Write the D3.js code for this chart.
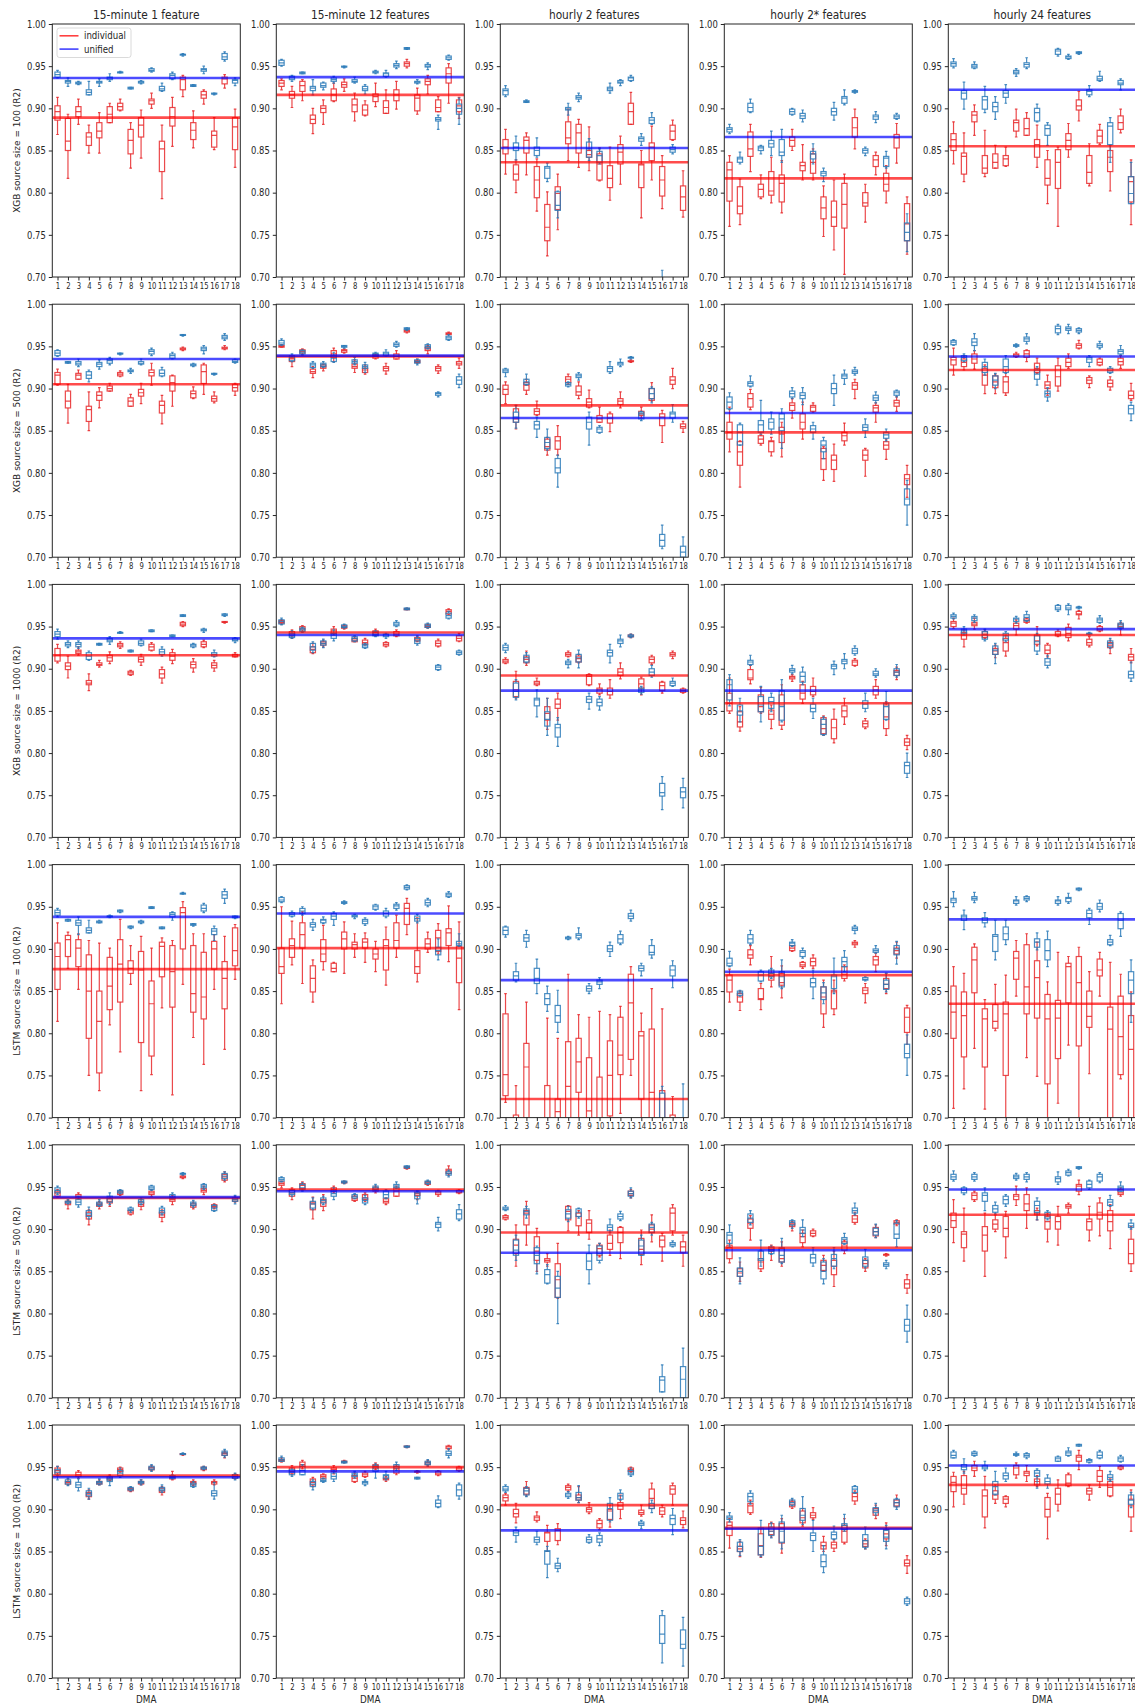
<!DOCTYPE html>
<html>
<head>
<meta charset="utf-8">
<script src="https://cdn.jsdelivr.net/npm/d3@7/dist/d3.min.js"></script>
<style>
  html, body { margin: 0; padding: 0; background: #fff; }
  svg { display: block; font-family: "DejaVu Sans", sans-serif; }
</style>
</head>
<body>
<script>
// ---- categories and labels ----
const dma = d3.range(1, 19);
const columnTitles = ["15-minute 1 feature", "15-minute 12 features", "hourly 2 features", "hourly 2* features", "hourly 24 features"];
const rowLabels = ["XGB source size = 100 (R2)", "XGB source size = 500 (R2)", "XGB source size = 1000 (R2)",
                   "LSTM source size = 100 (R2)", "LSTM source size = 500 (R2)", "LSTM source size = 1000 (R2)"];
const yTicks = [0.70, 0.75, 0.80, 0.85, 0.90, 0.95, 1.00];
const seriesNames = ["individual", "unified"];

// mean R2 across DMAs, one value per panel (rows x columns)
const meanIndividual = [
  [0.889, 0.916, 0.836, 0.817, 0.855],
  [0.905, 0.938, 0.880, 0.848, 0.922],
  [0.916, 0.943, 0.892, 0.859, 0.940],
  [0.876, 0.901, 0.722, 0.869, 0.835],
  [0.937, 0.947, 0.896, 0.878, 0.917],
  [0.940, 0.950, 0.905, 0.878, 0.929]];
const meanUnified = [
  [0.936, 0.937, 0.853, 0.866, 0.922],
  [0.935, 0.939, 0.865, 0.871, 0.938],
  [0.936, 0.940, 0.874, 0.874, 0.947],
  [0.938, 0.942, 0.863, 0.873, 0.935],
  [0.938, 0.945, 0.872, 0.875, 0.947],
  [0.938, 0.945, 0.875, 0.877, 0.952]];

// box statistics per DMA: [whisker low, q1, median, q3, whisker high]
// ---- XGB, source size 100 ----
const xgb100_m15f1_ind = [[0.869,0.886,0.896,0.903,0.913],[0.817,0.850,0.861,0.888,0.893],[0.881,0.890,0.896,0.902,0.911],[0.847,0.856,0.866,0.871,0.880],[0.847,0.865,0.873,0.883,0.895],[0.883,0.883,0.893,0.902,0.906],[0.897,0.898,0.902,0.906,0.911],[0.829,0.846,0.862,0.875,0.883],[0.841,0.866,0.880,0.889,0.898],[0.900,0.905,0.909,0.911,0.918],[0.793,0.825,0.852,0.861,0.880],[0.855,0.879,0.890,0.901,0.913],[0.914,0.922,0.934,0.937,0.939],[0.853,0.863,0.874,0.883,0.897],[0.905,0.912,0.916,0.920,0.922],[0.851,0.854,0.868,0.873,0.889],[0.924,0.929,0.935,0.937,0.940],[0.830,0.851,0.878,0.889,0.899]];
const xgb100_m15f1_uni = [[0.936,0.937,0.940,0.943,0.945],[0.926,0.930,0.932,0.933,0.936],[0.928,0.929,0.930,0.931,0.932],[0.916,0.916,0.919,0.922,0.932],[0.926,0.930,0.931,0.932,0.935],[0.932,0.934,0.936,0.937,0.941],[0.942,0.942,0.943,0.943,0.944],[0.923,0.923,0.924,0.925,0.925],[0.929,0.930,0.931,0.932,0.933],[0.943,0.944,0.945,0.947,0.948],[0.920,0.921,0.923,0.926,0.930],[0.934,0.935,0.939,0.941,0.943],[0.962,0.963,0.964,0.964,0.965],[0.926,0.926,0.927,0.928,0.928],[0.941,0.944,0.946,0.947,0.950],[0.916,0.917,0.917,0.918,0.918],[0.956,0.958,0.961,0.965,0.967],[0.927,0.930,0.933,0.934,0.936]];
const xgb100_m15f12_ind = [[0.922,0.926,0.930,0.933,0.935],[0.901,0.912,0.916,0.920,0.926],[0.909,0.920,0.927,0.932,0.934],[0.870,0.882,0.887,0.892,0.900],[0.881,0.895,0.900,0.903,0.910],[0.908,0.909,0.916,0.923,0.930],[0.920,0.925,0.928,0.931,0.935],[0.885,0.896,0.904,0.911,0.918],[0.891,0.892,0.898,0.904,0.909],[0.902,0.908,0.914,0.917,0.930],[0.894,0.894,0.901,0.909,0.922],[0.899,0.909,0.916,0.922,0.932],[0.948,0.950,0.953,0.955,0.958],[0.893,0.897,0.912,0.916,0.924],[0.917,0.928,0.932,0.935,0.939],[0.896,0.896,0.901,0.910,0.914],[0.906,0.930,0.941,0.948,0.953],[0.888,0.896,0.903,0.910,0.913]];
const xgb100_m15f12_uni = [[0.950,0.951,0.954,0.957,0.958],[0.932,0.934,0.936,0.938,0.939],[0.941,0.941,0.942,0.943,0.943],[0.916,0.921,0.924,0.926,0.934],[0.922,0.925,0.927,0.930,0.931],[0.930,0.932,0.934,0.936,0.938],[0.948,0.949,0.949,0.950,0.950],[0.930,0.931,0.932,0.934,0.937],[0.917,0.921,0.923,0.926,0.928],[0.941,0.942,0.943,0.944,0.945],[0.937,0.938,0.941,0.942,0.945],[0.947,0.949,0.951,0.953,0.956],[0.970,0.970,0.971,0.972,0.972],[0.929,0.930,0.931,0.932,0.934],[0.946,0.949,0.950,0.952,0.954],[0.875,0.885,0.887,0.889,0.892],[0.957,0.958,0.960,0.962,0.963],[0.881,0.893,0.900,0.905,0.912]];
const xgb100_h2_ind = [[0.822,0.846,0.854,0.863,0.875],[0.800,0.815,0.822,0.833,0.839],[0.821,0.847,0.862,0.866,0.871],[0.778,0.794,0.815,0.831,0.840],[0.725,0.743,0.759,0.786,0.801],[0.756,0.780,0.799,0.807,0.822],[0.838,0.858,0.865,0.884,0.899],[0.830,0.847,0.871,0.881,0.887],[0.826,0.842,0.845,0.850,0.878],[0.814,0.815,0.834,0.846,0.853],[0.791,0.806,0.817,0.832,0.854],[0.810,0.834,0.848,0.857,0.867],[0.881,0.881,0.896,0.906,0.919],[0.770,0.806,0.833,0.834,0.850],[0.815,0.838,0.854,0.859,0.879],[0.781,0.796,0.815,0.831,0.844],[0.862,0.863,0.873,0.880,0.886],[0.771,0.779,0.795,0.808,0.826]];
const xgb100_h2_uni = [[0.914,0.916,0.921,0.923,0.927],[0.839,0.850,0.854,0.859,0.867],[0.907,0.907,0.908,0.909,0.910],[0.842,0.844,0.850,0.854,0.865],[0.813,0.817,0.829,0.831,0.835],[0.770,0.779,0.785,0.801,0.802],[0.892,0.898,0.899,0.901,0.906],[0.908,0.911,0.913,0.915,0.918],[0.838,0.842,0.852,0.860,0.864],[0.834,0.836,0.844,0.849,0.852],[0.918,0.921,0.923,0.925,0.930],[0.927,0.930,0.931,0.933,0.934],[0.932,0.933,0.936,0.937,0.939],[0.856,0.861,0.864,0.866,0.870],[0.881,0.882,0.886,0.889,0.895],[0.660,0.670,0.680,0.690,0.708],[0.846,0.848,0.851,0.854,0.857],[0.640,0.650,0.660,0.670,0.680]];
const xgb100_h2s_ind = [[0.760,0.790,0.827,0.836,0.844],[0.762,0.775,0.784,0.807,0.816],[0.825,0.843,0.852,0.872,0.881],[0.793,0.795,0.804,0.810,0.821],[0.788,0.797,0.802,0.825,0.842],[0.776,0.789,0.811,0.821,0.838],[0.850,0.855,0.862,0.866,0.875],[0.815,0.826,0.832,0.836,0.857],[0.815,0.823,0.836,0.846,0.852],[0.748,0.769,0.782,0.795,0.808],[0.732,0.760,0.771,0.790,0.815],[0.703,0.758,0.786,0.811,0.822],[0.852,0.866,0.877,0.889,0.899],[0.765,0.784,0.788,0.800,0.810],[0.821,0.831,0.839,0.844,0.848],[0.788,0.802,0.810,0.823,0.832],[0.835,0.853,0.865,0.869,0.882],[0.727,0.743,0.763,0.787,0.795]];
const xgb100_h2s_uni = [[0.870,0.872,0.875,0.877,0.881],[0.834,0.836,0.840,0.842,0.848],[0.895,0.896,0.901,0.906,0.911],[0.846,0.850,0.853,0.855,0.856],[0.844,0.854,0.858,0.862,0.873],[0.836,0.844,0.848,0.863,0.875],[0.892,0.893,0.896,0.899,0.900],[0.884,0.888,0.891,0.894,0.898],[0.834,0.840,0.846,0.849,0.858],[0.813,0.820,0.823,0.825,0.829],[0.886,0.892,0.896,0.900,0.907],[0.904,0.906,0.912,0.914,0.922],[0.918,0.919,0.920,0.921,0.922],[0.844,0.847,0.850,0.852,0.854],[0.883,0.887,0.890,0.892,0.896],[0.829,0.831,0.841,0.843,0.849],[0.887,0.888,0.890,0.892,0.894],[0.730,0.743,0.753,0.764,0.775]];
const xgb100_h24_ind = [[0.834,0.850,0.863,0.870,0.884],[0.813,0.822,0.843,0.847,0.871],[0.868,0.884,0.892,0.896,0.904],[0.819,0.823,0.829,0.844,0.874],[0.829,0.829,0.836,0.846,0.856],[0.831,0.832,0.840,0.844,0.854],[0.866,0.873,0.883,0.886,0.899],[0.868,0.868,0.876,0.888,0.895],[0.830,0.842,0.857,0.863,0.880],[0.787,0.809,0.817,0.839,0.850],[0.760,0.805,0.836,0.851,0.854],[0.842,0.851,0.862,0.870,0.882],[0.885,0.898,0.903,0.910,0.920],[0.808,0.811,0.824,0.844,0.858],[0.857,0.859,0.867,0.874,0.881],[0.802,0.825,0.842,0.850,0.856],[0.871,0.875,0.883,0.891,0.899],[0.762,0.789,0.813,0.819,0.839]];
const xgb100_h24_uni = [[0.948,0.950,0.953,0.955,0.959],[0.899,0.911,0.918,0.921,0.931],[0.947,0.948,0.950,0.952,0.955],[0.895,0.899,0.910,0.914,0.926],[0.887,0.896,0.902,0.907,0.914],[0.906,0.913,0.918,0.921,0.928],[0.938,0.941,0.943,0.945,0.947],[0.947,0.949,0.952,0.954,0.960],[0.884,0.885,0.895,0.900,0.905],[0.856,0.868,0.876,0.880,0.883],[0.962,0.964,0.968,0.970,0.971],[0.958,0.959,0.961,0.962,0.964],[0.964,0.965,0.966,0.967,0.967],[0.914,0.916,0.920,0.922,0.927],[0.932,0.933,0.935,0.938,0.944],[0.836,0.857,0.879,0.883,0.889],[0.922,0.928,0.930,0.933,0.935],[0.787,0.787,0.799,0.819,0.836]];

// ---- XGB, source size 500 ----
const xgb500_m15f1_ind = [[0.904,0.905,0.916,0.919,0.923],[0.859,0.877,0.885,0.897,0.905],[0.911,0.911,0.916,0.918,0.922],[0.850,0.861,0.875,0.879,0.896],[0.877,0.886,0.892,0.896,0.901],[0.897,0.897,0.900,0.903,0.906],[0.914,0.915,0.917,0.919,0.921],[0.879,0.879,0.885,0.889,0.893],[0.882,0.891,0.895,0.899,0.906],[0.904,0.915,0.919,0.922,0.930],[0.858,0.871,0.880,0.885,0.892],[0.879,0.897,0.907,0.915,0.916],[0.945,0.946,0.947,0.948,0.949],[0.888,0.889,0.894,0.897,0.902],[0.893,0.906,0.920,0.928,0.930],[0.883,0.885,0.888,0.891,0.896],[0.946,0.947,0.948,0.949,0.951],[0.892,0.897,0.901,0.905,0.906]];
const xgb500_m15f1_uni = [[0.938,0.939,0.942,0.945,0.946],[0.930,0.930,0.931,0.932,0.932],[0.926,0.928,0.930,0.932,0.935],[0.908,0.912,0.916,0.920,0.922],[0.923,0.926,0.929,0.931,0.934],[0.928,0.930,0.933,0.935,0.937],[0.940,0.941,0.941,0.942,0.942],[0.918,0.920,0.921,0.922,0.924],[0.928,0.929,0.930,0.932,0.935],[0.939,0.941,0.944,0.946,0.948],[0.914,0.915,0.918,0.922,0.925],[0.935,0.936,0.939,0.941,0.943],[0.962,0.963,0.963,0.964,0.964],[0.926,0.927,0.928,0.929,0.930],[0.941,0.945,0.947,0.949,0.951],[0.916,0.917,0.917,0.918,0.918],[0.957,0.959,0.961,0.963,0.965],[0.930,0.931,0.932,0.934,0.935]];
const xgb500_m15f12_ind = [[0.949,0.949,0.950,0.951,0.952],[0.926,0.932,0.935,0.936,0.938],[0.940,0.942,0.944,0.946,0.947],[0.913,0.918,0.920,0.923,0.926],[0.921,0.924,0.926,0.928,0.929],[0.932,0.937,0.941,0.945,0.948],[0.942,0.943,0.945,0.946,0.947],[0.919,0.924,0.926,0.929,0.934],[0.917,0.919,0.922,0.924,0.928],[0.935,0.936,0.938,0.940,0.941],[0.917,0.921,0.924,0.926,0.930],[0.935,0.935,0.938,0.941,0.945],[0.966,0.967,0.968,0.969,0.970],[0.930,0.931,0.932,0.933,0.935],[0.941,0.945,0.947,0.949,0.951],[0.918,0.921,0.924,0.926,0.928],[0.964,0.964,0.965,0.966,0.967],[0.924,0.928,0.930,0.932,0.936]];
const xgb500_m15f12_uni = [[0.951,0.952,0.954,0.957,0.959],[0.932,0.933,0.937,0.939,0.941],[0.940,0.941,0.943,0.945,0.946],[0.924,0.925,0.928,0.930,0.932],[0.925,0.926,0.928,0.930,0.932],[0.931,0.932,0.936,0.939,0.943],[0.948,0.949,0.950,0.951,0.951],[0.928,0.930,0.932,0.934,0.937],[0.919,0.924,0.926,0.928,0.931],[0.938,0.939,0.941,0.942,0.943],[0.938,0.939,0.941,0.943,0.946],[0.949,0.950,0.952,0.954,0.956],[0.969,0.970,0.971,0.972,0.972],[0.928,0.930,0.932,0.934,0.935],[0.947,0.948,0.950,0.952,0.953],[0.890,0.892,0.894,0.895,0.896],[0.957,0.958,0.960,0.962,0.964],[0.901,0.905,0.910,0.914,0.917]];
const xgb500_h2_ind = [[0.882,0.893,0.899,0.904,0.908],[0.852,0.860,0.864,0.876,0.880],[0.893,0.898,0.904,0.907,0.911],[0.868,0.869,0.873,0.876,0.885],[0.821,0.827,0.831,0.840,0.842],[0.821,0.828,0.838,0.843,0.856],[0.905,0.907,0.911,0.914,0.917],[0.888,0.892,0.896,0.903,0.908],[0.877,0.878,0.884,0.888,0.898],[0.860,0.860,0.864,0.868,0.878],[0.849,0.859,0.865,0.870,0.872],[0.877,0.881,0.885,0.888,0.896],[0.931,0.932,0.932,0.933,0.934],[0.865,0.868,0.870,0.873,0.878],[0.885,0.886,0.888,0.900,0.907],[0.836,0.856,0.866,0.870,0.874],[0.900,0.905,0.910,0.914,0.924],[0.848,0.853,0.855,0.858,0.861]];
const xgb500_h2_uni = [[0.914,0.919,0.921,0.923,0.924],[0.853,0.860,0.866,0.872,0.880],[0.904,0.905,0.908,0.911,0.917],[0.842,0.852,0.857,0.861,0.866],[0.827,0.829,0.836,0.842,0.852],[0.783,0.800,0.806,0.817,0.821],[0.902,0.903,0.905,0.907,0.908],[0.910,0.913,0.915,0.917,0.919],[0.833,0.852,0.860,0.866,0.872],[0.847,0.848,0.852,0.854,0.856],[0.918,0.920,0.924,0.926,0.932],[0.926,0.928,0.930,0.931,0.935],[0.935,0.936,0.937,0.937,0.938],[0.862,0.864,0.870,0.872,0.873],[0.883,0.888,0.894,0.900,0.902],[0.710,0.713,0.720,0.727,0.738],[0.860,0.865,0.870,0.872,0.881],[0.695,0.700,0.706,0.713,0.724]];
const xgb500_h2s_ind = [[0.825,0.840,0.848,0.860,0.878],[0.783,0.809,0.825,0.837,0.838],[0.875,0.878,0.888,0.894,0.899],[0.833,0.835,0.840,0.844,0.845],[0.820,0.825,0.837,0.838,0.842],[0.819,0.836,0.846,0.854,0.860],[0.865,0.874,0.880,0.883,0.888],[0.840,0.852,0.860,0.870,0.884],[0.872,0.873,0.878,0.880,0.883],[0.791,0.804,0.817,0.829,0.831],[0.790,0.804,0.815,0.821,0.834],[0.833,0.838,0.844,0.848,0.859],[0.888,0.899,0.904,0.907,0.911],[0.796,0.815,0.821,0.827,0.829],[0.860,0.872,0.877,0.880,0.883],[0.816,0.828,0.833,0.837,0.840],[0.873,0.879,0.883,0.886,0.890],[0.771,0.786,0.793,0.798,0.809]];
const xgb500_h2s_uni = [[0.875,0.876,0.884,0.890,0.895],[0.833,0.833,0.848,0.857,0.859],[0.902,0.903,0.906,0.908,0.915],[0.846,0.848,0.857,0.862,0.886],[0.846,0.852,0.860,0.864,0.872],[0.829,0.850,0.864,0.870,0.876],[0.888,0.890,0.894,0.897,0.901],[0.881,0.888,0.892,0.895,0.901],[0.840,0.848,0.852,0.856,0.860],[0.817,0.825,0.833,0.838,0.842],[0.880,0.894,0.900,0.906,0.916],[0.905,0.912,0.915,0.917,0.922],[0.916,0.918,0.920,0.922,0.925],[0.842,0.850,0.854,0.857,0.864],[0.883,0.886,0.889,0.892,0.896],[0.838,0.841,0.845,0.848,0.852],[0.890,0.892,0.895,0.897,0.898],[0.738,0.762,0.769,0.781,0.791]];
const xgb500_h24_ind = [[0.916,0.928,0.934,0.937,0.948],[0.922,0.926,0.931,0.935,0.939],[0.923,0.930,0.935,0.941,0.945],[0.894,0.904,0.916,0.924,0.928],[0.894,0.901,0.908,0.915,0.917],[0.892,0.895,0.908,0.914,0.922],[0.937,0.938,0.940,0.941,0.943],[0.932,0.937,0.941,0.945,0.946],[0.918,0.919,0.924,0.930,0.936],[0.892,0.900,0.904,0.908,0.916],[0.897,0.903,0.914,0.927,0.936],[0.924,0.926,0.931,0.936,0.941],[0.947,0.948,0.951,0.953,0.957],[0.901,0.906,0.910,0.913,0.915],[0.927,0.928,0.931,0.935,0.936],[0.898,0.902,0.906,0.910,0.914],[0.924,0.928,0.932,0.936,0.939],[0.886,0.888,0.892,0.897,0.906]];
const xgb500_h24_uni = [[0.951,0.952,0.955,0.957,0.958],[0.932,0.933,0.937,0.939,0.941],[0.945,0.951,0.955,0.959,0.965],[0.916,0.919,0.926,0.931,0.935],[0.900,0.904,0.910,0.915,0.918],[0.918,0.919,0.926,0.935,0.939],[0.949,0.950,0.951,0.952,0.953],[0.953,0.956,0.959,0.961,0.965],[0.904,0.911,0.917,0.922,0.926],[0.885,0.890,0.894,0.897,0.901],[0.964,0.966,0.971,0.974,0.976],[0.965,0.969,0.971,0.973,0.976],[0.965,0.967,0.969,0.971,0.972],[0.926,0.931,0.935,0.937,0.939],[0.947,0.949,0.951,0.953,0.956],[0.918,0.919,0.921,0.924,0.926],[0.940,0.941,0.944,0.946,0.951],[0.862,0.870,0.876,0.880,0.884]];

// ---- XGB, source size 1000 ----
const xgb1000_m15f1_ind = [[0.907,0.909,0.916,0.924,0.929],[0.889,0.899,0.903,0.907,0.915],[0.916,0.918,0.920,0.922,0.926],[0.874,0.881,0.883,0.886,0.894],[0.902,0.904,0.905,0.907,0.910],[0.906,0.909,0.913,0.916,0.920],[0.924,0.926,0.928,0.930,0.932],[0.892,0.893,0.895,0.897,0.898],[0.904,0.908,0.911,0.914,0.917],[0.921,0.922,0.926,0.929,0.931],[0.883,0.889,0.894,0.899,0.902],[0.906,0.910,0.915,0.919,0.923],[0.950,0.951,0.953,0.955,0.956],[0.896,0.901,0.905,0.908,0.912],[0.925,0.926,0.929,0.932,0.934],[0.897,0.901,0.904,0.907,0.910],[0.954,0.955,0.955,0.956,0.956],[0.914,0.914,0.915,0.917,0.919]];
const xgb1000_m15f1_uni = [[0.935,0.938,0.941,0.944,0.947],[0.925,0.927,0.929,0.931,0.933],[0.924,0.926,0.929,0.931,0.933],[0.910,0.911,0.915,0.919,0.921],[0.928,0.928,0.929,0.930,0.930],[0.929,0.932,0.934,0.936,0.938],[0.942,0.942,0.943,0.943,0.944],[0.920,0.920,0.921,0.922,0.922],[0.927,0.928,0.930,0.933,0.935],[0.944,0.944,0.945,0.946,0.946],[0.915,0.917,0.920,0.923,0.926],[0.938,0.938,0.939,0.940,0.940],[0.962,0.962,0.963,0.964,0.964],[0.925,0.926,0.928,0.929,0.930],[0.943,0.945,0.946,0.947,0.948],[0.914,0.915,0.917,0.919,0.922],[0.962,0.963,0.964,0.965,0.965],[0.931,0.933,0.934,0.936,0.937]];
const xgb1000_m15f12_ind = [[0.953,0.954,0.955,0.957,0.958],[0.936,0.939,0.941,0.944,0.946],[0.944,0.946,0.948,0.950,0.951],[0.918,0.919,0.923,0.926,0.930],[0.926,0.928,0.930,0.932,0.934],[0.940,0.942,0.945,0.947,0.950],[0.947,0.948,0.949,0.951,0.952],[0.932,0.932,0.934,0.936,0.938],[0.928,0.929,0.931,0.934,0.936],[0.939,0.940,0.943,0.945,0.947],[0.926,0.927,0.929,0.931,0.932],[0.938,0.939,0.941,0.944,0.946],[0.970,0.970,0.971,0.971,0.972],[0.932,0.933,0.935,0.937,0.939],[0.948,0.949,0.950,0.952,0.953],[0.926,0.927,0.930,0.933,0.935],[0.964,0.965,0.968,0.970,0.971],[0.932,0.933,0.936,0.939,0.942]];
const xgb1000_m15f12_uni = [[0.952,0.953,0.956,0.958,0.960],[0.936,0.937,0.939,0.942,0.945],[0.943,0.944,0.946,0.948,0.949],[0.919,0.922,0.926,0.930,0.932],[0.925,0.928,0.930,0.933,0.935],[0.933,0.936,0.940,0.942,0.946],[0.948,0.949,0.950,0.952,0.953],[0.932,0.933,0.936,0.938,0.939],[0.924,0.925,0.927,0.929,0.930],[0.938,0.939,0.941,0.944,0.945],[0.936,0.938,0.940,0.941,0.942],[0.950,0.951,0.953,0.955,0.957],[0.970,0.970,0.971,0.972,0.972],[0.928,0.930,0.933,0.936,0.938],[0.948,0.949,0.951,0.953,0.954],[0.898,0.899,0.902,0.904,0.905],[0.959,0.960,0.963,0.966,0.968],[0.916,0.917,0.919,0.921,0.922]];
const xgb1000_h2_ind = [[0.906,0.907,0.909,0.911,0.913],[0.865,0.867,0.875,0.885,0.897],[0.904,0.907,0.911,0.914,0.921],[0.880,0.881,0.883,0.885,0.889],[0.828,0.839,0.847,0.855,0.865],[0.839,0.853,0.858,0.864,0.871],[0.914,0.915,0.917,0.919,0.921],[0.907,0.908,0.912,0.915,0.917],[0.880,0.881,0.891,0.893,0.894],[0.869,0.871,0.875,0.877,0.882],[0.865,0.869,0.873,0.877,0.887],[0.888,0.892,0.896,0.900,0.907],[0.937,0.938,0.938,0.940,0.941],[0.869,0.877,0.882,0.888,0.890],[0.905,0.907,0.911,0.914,0.916],[0.871,0.874,0.880,0.884,0.885],[0.912,0.915,0.917,0.919,0.921],[0.871,0.872,0.874,0.876,0.877]];
const xgb1000_h2_uni = [[0.919,0.922,0.925,0.928,0.930],[0.863,0.866,0.873,0.883,0.887],[0.907,0.908,0.913,0.916,0.919],[0.843,0.856,0.863,0.865,0.875],[0.821,0.832,0.840,0.849,0.865],[0.808,0.819,0.830,0.834,0.842],[0.901,0.905,0.907,0.909,0.911],[0.901,0.908,0.913,0.917,0.922],[0.852,0.860,0.864,0.867,0.871],[0.851,0.856,0.860,0.864,0.867],[0.907,0.915,0.919,0.922,0.929],[0.926,0.930,0.933,0.935,0.940],[0.937,0.938,0.939,0.940,0.941],[0.870,0.872,0.875,0.877,0.879],[0.890,0.892,0.896,0.900,0.904],[0.733,0.749,0.753,0.764,0.772],[0.879,0.880,0.883,0.885,0.889],[0.735,0.747,0.754,0.759,0.770]];
const xgb1000_h2s_ind = [[0.847,0.850,0.859,0.871,0.889],[0.826,0.831,0.837,0.849,0.855],[0.882,0.887,0.889,0.899,0.904],[0.847,0.849,0.855,0.869,0.878],[0.829,0.840,0.846,0.851,0.857],[0.828,0.833,0.857,0.869,0.881],[0.885,0.888,0.890,0.891,0.893],[0.859,0.864,0.871,0.881,0.885],[0.867,0.869,0.873,0.879,0.889],[0.821,0.823,0.829,0.842,0.844],[0.812,0.817,0.830,0.840,0.852],[0.834,0.843,0.850,0.856,0.865],[0.903,0.904,0.908,0.910,0.912],[0.829,0.831,0.835,0.838,0.841],[0.865,0.869,0.875,0.879,0.887],[0.821,0.829,0.843,0.857,0.861],[0.887,0.892,0.896,0.898,0.902],[0.804,0.809,0.813,0.817,0.821]];
const xgb1000_h2s_uni = [[0.856,0.863,0.881,0.887,0.893],[0.837,0.845,0.850,0.857,0.865],[0.904,0.905,0.908,0.910,0.916],[0.837,0.849,0.857,0.867,0.879],[0.849,0.853,0.861,0.866,0.871],[0.837,0.839,0.855,0.874,0.887],[0.894,0.896,0.898,0.900,0.904],[0.881,0.884,0.891,0.896,0.902],[0.841,0.849,0.853,0.858,0.865],[0.821,0.822,0.834,0.840,0.843],[0.893,0.900,0.903,0.905,0.909],[0.900,0.906,0.909,0.911,0.918],[0.916,0.918,0.921,0.924,0.927],[0.849,0.853,0.858,0.862,0.871],[0.890,0.892,0.894,0.897,0.900],[0.839,0.840,0.855,0.859,0.873],[0.890,0.892,0.896,0.900,0.905],[0.771,0.776,0.785,0.789,0.800]];
const xgb1000_h24_ind = [[0.948,0.950,0.954,0.956,0.960],[0.926,0.935,0.940,0.943,0.946],[0.947,0.951,0.953,0.955,0.960],[0.936,0.937,0.941,0.944,0.946],[0.913,0.917,0.921,0.924,0.928],[0.915,0.921,0.931,0.936,0.940],[0.940,0.947,0.951,0.954,0.958],[0.954,0.955,0.957,0.959,0.960],[0.927,0.929,0.933,0.940,0.950],[0.914,0.918,0.922,0.928,0.930],[0.938,0.939,0.941,0.944,0.946],[0.933,0.937,0.942,0.949,0.953],[0.959,0.964,0.965,0.968,0.969],[0.926,0.928,0.931,0.935,0.938],[0.944,0.945,0.947,0.950,0.951],[0.918,0.925,0.928,0.931,0.934],[0.940,0.948,0.950,0.953,0.955],[0.907,0.910,0.914,0.917,0.924]];
const xgb1000_h24_uni = [[0.959,0.960,0.962,0.964,0.966],[0.940,0.942,0.945,0.947,0.950],[0.955,0.957,0.960,0.962,0.964],[0.933,0.935,0.940,0.944,0.947],[0.906,0.917,0.922,0.927,0.930],[0.932,0.934,0.939,0.942,0.944],[0.954,0.956,0.959,0.960,0.962],[0.956,0.957,0.961,0.964,0.968],[0.917,0.921,0.932,0.939,0.942],[0.901,0.904,0.908,0.912,0.916],[0.968,0.970,0.972,0.975,0.976],[0.964,0.970,0.972,0.975,0.977],[0.971,0.972,0.973,0.973,0.974],[0.940,0.941,0.942,0.942,0.943],[0.954,0.955,0.958,0.960,0.963],[0.924,0.926,0.930,0.933,0.936],[0.947,0.949,0.952,0.954,0.957],[0.885,0.889,0.893,0.897,0.908]];

// ---- LSTM, source size 100 ----
const lstm100_m15f1_ind = [[0.814,0.852,0.891,0.907,0.931],[0.877,0.891,0.911,0.916,0.920],[0.852,0.879,0.901,0.911,0.918],[0.750,0.794,0.850,0.893,0.910],[0.732,0.753,0.814,0.850,0.907],[0.810,0.828,0.856,0.890,0.901],[0.778,0.837,0.882,0.911,0.935],[0.858,0.871,0.877,0.886,0.904],[0.732,0.789,0.875,0.897,0.915],[0.751,0.773,0.835,0.862,0.901],[0.830,0.867,0.903,0.908,0.913],[0.727,0.831,0.873,0.904,0.910],[0.858,0.900,0.943,0.949,0.956],[0.795,0.825,0.847,0.904,0.918],[0.763,0.817,0.843,0.896,0.918],[0.852,0.876,0.900,0.909,0.917],[0.781,0.829,0.865,0.885,0.915],[0.864,0.880,0.898,0.925,0.929]];
const lstm100_m15f1_uni = [[0.938,0.940,0.943,0.946,0.948],[0.933,0.933,0.934,0.935,0.935],[0.917,0.928,0.931,0.934,0.938],[0.919,0.919,0.922,0.925,0.934],[0.931,0.931,0.932,0.933,0.934],[0.937,0.938,0.939,0.939,0.940],[0.943,0.944,0.945,0.946,0.946],[0.924,0.925,0.926,0.927,0.927],[0.930,0.931,0.932,0.933,0.934],[0.948,0.948,0.949,0.950,0.950],[0.924,0.924,0.925,0.926,0.926],[0.934,0.938,0.941,0.943,0.944],[0.965,0.965,0.966,0.966,0.967],[0.927,0.928,0.929,0.930,0.930],[0.943,0.945,0.948,0.952,0.954],[0.910,0.917,0.921,0.924,0.927],[0.954,0.960,0.964,0.968,0.971],[0.936,0.937,0.938,0.939,0.939]];
const lstm100_m15f12_ind = [[0.835,0.871,0.879,0.901,0.950],[0.881,0.890,0.904,0.912,0.933],[0.859,0.901,0.917,0.931,0.944],[0.837,0.849,0.865,0.880,0.887],[0.875,0.885,0.894,0.911,0.928],[0.873,0.873,0.877,0.883,0.884],[0.871,0.900,0.912,0.920,0.932],[0.890,0.900,0.905,0.908,0.918],[0.884,0.901,0.908,0.912,0.919],[0.873,0.888,0.894,0.900,0.909],[0.857,0.875,0.904,0.911,0.926],[0.890,0.901,0.910,0.931,0.940],[0.917,0.929,0.948,0.954,0.960],[0.861,0.871,0.879,0.898,0.937],[0.896,0.900,0.906,0.912,0.920],[0.894,0.897,0.913,0.922,0.930],[0.885,0.904,0.919,0.924,0.951],[0.828,0.860,0.889,0.903,0.932]];
const lstm100_m15f12_uni = [[0.955,0.956,0.958,0.961,0.962],[0.938,0.939,0.941,0.943,0.945],[0.940,0.942,0.945,0.948,0.950],[0.922,0.926,0.929,0.931,0.935],[0.930,0.931,0.934,0.935,0.938],[0.928,0.935,0.939,0.942,0.944],[0.953,0.954,0.955,0.956,0.957],[0.936,0.938,0.939,0.940,0.941],[0.928,0.930,0.933,0.935,0.937],[0.946,0.947,0.950,0.952,0.953],[0.937,0.939,0.942,0.945,0.948],[0.946,0.948,0.951,0.953,0.955],[0.970,0.971,0.973,0.975,0.976],[0.931,0.933,0.936,0.939,0.941],[0.950,0.952,0.955,0.958,0.960],[0.887,0.893,0.898,0.902,0.912],[0.961,0.962,0.964,0.966,0.968],[0.903,0.904,0.906,0.909,0.918]];
const lstm100_h2_ind = [[0.718,0.726,0.751,0.823,0.847],[0.650,0.680,0.695,0.703,0.738],[0.680,0.700,0.760,0.788,0.837],[0.550,0.600,0.630,0.660,0.690],[0.600,0.650,0.680,0.738,0.818],[0.600,0.670,0.707,0.722,0.794],[0.600,0.680,0.737,0.790,0.870],[0.690,0.730,0.766,0.794,0.822],[0.620,0.670,0.708,0.771,0.819],[0.600,0.650,0.690,0.748,0.826],[0.660,0.702,0.750,0.791,0.822],[0.705,0.751,0.774,0.819,0.832],[0.750,0.769,0.836,0.870,0.879],[0.680,0.722,0.797,0.802,0.824],[0.600,0.680,0.730,0.805,0.853],[0.580,0.640,0.690,0.732,0.829],[0.600,0.650,0.680,0.703,0.725],[0.550,0.600,0.630,0.660,0.690]];
const lstm100_h2_uni = [[0.914,0.917,0.922,0.926,0.927],[0.861,0.863,0.868,0.873,0.883],[0.902,0.909,0.913,0.917,0.922],[0.847,0.859,0.865,0.877,0.888],[0.826,0.834,0.841,0.847,0.856],[0.801,0.813,0.821,0.833,0.851],[0.911,0.912,0.913,0.914,0.915],[0.911,0.913,0.916,0.918,0.925],[0.847,0.850,0.853,0.856,0.859],[0.853,0.858,0.861,0.863,0.866],[0.891,0.897,0.900,0.904,0.908],[0.905,0.907,0.912,0.917,0.921],[0.933,0.936,0.939,0.942,0.946],[0.868,0.874,0.877,0.880,0.883],[0.889,0.893,0.896,0.904,0.911],[0.640,0.670,0.690,0.729,0.737],[0.854,0.868,0.875,0.880,0.886],[0.600,0.640,0.670,0.690,0.740]];
const lstm100_h2s_ind = [[0.837,0.849,0.863,0.869,0.876],[0.827,0.837,0.843,0.847,0.850],[0.881,0.889,0.893,0.899,0.904],[0.828,0.840,0.841,0.853,0.859],[0.855,0.863,0.868,0.871,0.891],[0.842,0.857,0.860,0.871,0.880],[0.897,0.898,0.901,0.904,0.904],[0.877,0.879,0.881,0.884,0.885],[0.877,0.880,0.885,0.889,0.893],[0.807,0.823,0.843,0.855,0.863],[0.822,0.829,0.849,0.851,0.863],[0.862,0.865,0.870,0.879,0.881],[0.902,0.905,0.907,0.908,0.910],[0.836,0.847,0.851,0.854,0.859],[0.873,0.881,0.887,0.891,0.895],[0.847,0.853,0.858,0.865,0.871],[0.889,0.894,0.898,0.901,0.908],[0.787,0.801,0.819,0.830,0.833]];
const lstm100_h2s_uni = [[0.879,0.880,0.883,0.889,0.897],[0.844,0.845,0.848,0.850,0.851],[0.905,0.907,0.912,0.917,0.922],[0.861,0.862,0.869,0.873,0.875],[0.865,0.867,0.871,0.875,0.877],[0.853,0.855,0.867,0.873,0.887],[0.903,0.904,0.907,0.908,0.911],[0.889,0.891,0.896,0.898,0.901],[0.841,0.855,0.860,0.865,0.875],[0.835,0.840,0.848,0.855,0.860],[0.847,0.853,0.867,0.869,0.889],[0.873,0.879,0.885,0.890,0.898],[0.918,0.922,0.924,0.926,0.928],[0.862,0.863,0.864,0.866,0.867],[0.895,0.896,0.898,0.900,0.904],[0.849,0.852,0.858,0.863,0.871],[0.882,0.893,0.900,0.904,0.909],[0.750,0.771,0.776,0.787,0.798]];
const lstm100_h24_ind = [[0.711,0.794,0.825,0.856,0.879],[0.734,0.772,0.821,0.849,0.871],[0.782,0.848,0.887,0.902,0.906],[0.710,0.760,0.817,0.829,0.840],[0.803,0.806,0.814,0.834,0.858],[0.690,0.750,0.823,0.837,0.869],[0.844,0.864,0.889,0.897,0.910],[0.771,0.823,0.855,0.905,0.918],[0.749,0.818,0.866,0.886,0.908],[0.690,0.740,0.817,0.846,0.861],[0.717,0.770,0.818,0.839,0.896],[0.786,0.836,0.879,0.883,0.891],[0.690,0.785,0.860,0.891,0.902],[0.752,0.807,0.820,0.850,0.873],[0.844,0.868,0.875,0.888,0.896],[0.680,0.700,0.805,0.831,0.884],[0.746,0.751,0.796,0.844,0.870],[0.680,0.700,0.781,0.821,0.849]];
const lstm100_h24_uni = [[0.950,0.955,0.958,0.960,0.968],[0.923,0.934,0.938,0.940,0.946],[0.955,0.958,0.960,0.962,0.967],[0.926,0.931,0.934,0.937,0.943],[0.887,0.897,0.915,0.917,0.934],[0.905,0.911,0.918,0.926,0.934],[0.952,0.954,0.957,0.958,0.962],[0.956,0.958,0.960,0.962,0.963],[0.899,0.902,0.908,0.912,0.919],[0.879,0.887,0.898,0.911,0.921],[0.952,0.954,0.957,0.958,0.962],[0.954,0.956,0.960,0.961,0.966],[0.969,0.970,0.971,0.972,0.972],[0.929,0.937,0.942,0.946,0.948],[0.944,0.947,0.950,0.954,0.958],[0.904,0.905,0.908,0.911,0.916],[0.915,0.924,0.934,0.942,0.944],[0.813,0.847,0.863,0.873,0.887]];

// ---- LSTM, source size 500 ----
const lstm500_m15f1_ind = [[0.938,0.939,0.943,0.945,0.947],[0.924,0.929,0.931,0.933,0.934],[0.936,0.937,0.939,0.941,0.943],[0.905,0.912,0.916,0.920,0.923],[0.924,0.927,0.929,0.931,0.933],[0.927,0.931,0.933,0.936,0.938],[0.940,0.941,0.943,0.945,0.946],[0.917,0.918,0.920,0.922,0.923],[0.923,0.927,0.929,0.932,0.935],[0.939,0.941,0.943,0.945,0.947],[0.909,0.914,0.917,0.920,0.923],[0.929,0.933,0.935,0.937,0.940],[0.960,0.961,0.962,0.963,0.964],[0.924,0.926,0.928,0.930,0.932],[0.941,0.944,0.946,0.948,0.951],[0.924,0.926,0.927,0.929,0.930],[0.956,0.958,0.962,0.965,0.968],[0.932,0.933,0.935,0.937,0.939]];
const lstm500_m15f1_uni = [[0.941,0.943,0.946,0.949,0.951],[0.930,0.931,0.932,0.933,0.935],[0.926,0.929,0.932,0.935,0.939],[0.912,0.915,0.918,0.922,0.926],[0.927,0.928,0.930,0.932,0.935],[0.929,0.932,0.936,0.939,0.943],[0.942,0.943,0.945,0.946,0.947],[0.920,0.922,0.923,0.925,0.926],[0.929,0.931,0.933,0.935,0.937],[0.946,0.947,0.949,0.951,0.952],[0.917,0.919,0.922,0.925,0.927],[0.936,0.937,0.939,0.941,0.943],[0.964,0.965,0.966,0.966,0.967],[0.926,0.928,0.930,0.932,0.934],[0.947,0.949,0.951,0.953,0.954],[0.921,0.922,0.925,0.928,0.929],[0.958,0.960,0.963,0.966,0.968],[0.930,0.933,0.935,0.937,0.940]];
const lstm500_m15f12_ind = [[0.949,0.952,0.954,0.956,0.957],[0.935,0.939,0.943,0.947,0.949],[0.946,0.948,0.952,0.954,0.956],[0.912,0.923,0.930,0.932,0.938],[0.922,0.927,0.932,0.935,0.941],[0.943,0.945,0.947,0.949,0.951],[0.954,0.955,0.955,0.956,0.957],[0.933,0.934,0.936,0.939,0.941],[0.933,0.935,0.937,0.941,0.943],[0.943,0.945,0.947,0.949,0.951],[0.929,0.931,0.933,0.936,0.937],[0.939,0.939,0.945,0.949,0.951],[0.971,0.972,0.973,0.974,0.974],[0.935,0.940,0.942,0.944,0.945],[0.952,0.953,0.955,0.956,0.957],[0.939,0.941,0.943,0.945,0.946],[0.964,0.966,0.969,0.971,0.975],[0.942,0.943,0.944,0.946,0.947]];
const lstm500_m15f12_uni = [[0.956,0.957,0.959,0.961,0.962],[0.939,0.941,0.943,0.946,0.947],[0.945,0.947,0.949,0.953,0.955],[0.923,0.925,0.930,0.933,0.937],[0.929,0.931,0.934,0.937,0.939],[0.935,0.939,0.942,0.945,0.949],[0.954,0.955,0.956,0.957,0.957],[0.936,0.937,0.939,0.941,0.942],[0.929,0.931,0.934,0.937,0.940],[0.946,0.947,0.949,0.951,0.953],[0.936,0.937,0.941,0.945,0.947],[0.948,0.949,0.951,0.953,0.956],[0.972,0.973,0.974,0.975,0.975],[0.930,0.936,0.939,0.943,0.945],[0.953,0.954,0.956,0.957,0.958],[0.898,0.902,0.906,0.908,0.914],[0.962,0.964,0.966,0.968,0.970],[0.910,0.912,0.918,0.923,0.929]];
const lstm500_h2_ind = [[0.911,0.912,0.914,0.916,0.917],[0.856,0.871,0.881,0.888,0.905],[0.881,0.905,0.919,0.922,0.933],[0.850,0.863,0.874,0.891,0.901],[0.856,0.861,0.863,0.865,0.871],[0.818,0.819,0.840,0.859,0.883],[0.898,0.911,0.921,0.927,0.928],[0.893,0.904,0.915,0.919,0.922],[0.888,0.896,0.907,0.911,0.922],[0.867,0.869,0.877,0.881,0.883],[0.869,0.876,0.883,0.893,0.899],[0.865,0.884,0.896,0.902,0.903],[0.937,0.940,0.942,0.945,0.947],[0.858,0.870,0.876,0.889,0.899],[0.885,0.896,0.900,0.905,0.917],[0.862,0.879,0.887,0.892,0.895],[0.893,0.898,0.919,0.925,0.929],[0.856,0.872,0.879,0.885,0.893]];
const lstm500_h2_uni = [[0.922,0.923,0.924,0.926,0.928],[0.863,0.869,0.875,0.887,0.893],[0.913,0.917,0.921,0.924,0.927],[0.847,0.859,0.869,0.878,0.880],[0.835,0.836,0.846,0.852,0.858],[0.788,0.819,0.830,0.844,0.850],[0.909,0.913,0.918,0.923,0.927],[0.913,0.915,0.920,0.924,0.925],[0.835,0.852,0.862,0.871,0.881],[0.860,0.863,0.871,0.880,0.883],[0.896,0.898,0.902,0.905,0.912],[0.910,0.912,0.915,0.918,0.921],[0.937,0.939,0.942,0.945,0.949],[0.869,0.869,0.880,0.887,0.893],[0.893,0.896,0.902,0.906,0.908],[0.707,0.707,0.721,0.725,0.739],[0.879,0.880,0.882,0.884,0.886],[0.690,0.700,0.722,0.737,0.759]];
const lstm500_h2s_ind = [[0.860,0.865,0.878,0.881,0.887],[0.838,0.844,0.848,0.853,0.861],[0.887,0.901,0.907,0.912,0.916],[0.850,0.853,0.861,0.865,0.875],[0.863,0.874,0.876,0.879,0.881],[0.856,0.861,0.865,0.877,0.885],[0.898,0.903,0.905,0.907,0.909],[0.879,0.884,0.891,0.895,0.899],[0.891,0.892,0.895,0.898,0.900],[0.850,0.851,0.857,0.863,0.869],[0.832,0.846,0.856,0.863,0.874],[0.871,0.875,0.880,0.885,0.887],[0.906,0.908,0.912,0.916,0.920],[0.850,0.854,0.859,0.863,0.865],[0.890,0.892,0.897,0.902,0.905],[0.868,0.869,0.870,0.870,0.871],[0.904,0.906,0.908,0.910,0.911],[0.824,0.830,0.835,0.840,0.846]];
const lstm500_h2s_uni = [[0.879,0.883,0.893,0.896,0.905],[0.835,0.844,0.850,0.854,0.866],[0.905,0.908,0.913,0.918,0.922],[0.856,0.863,0.865,0.874,0.887],[0.870,0.871,0.874,0.878,0.880],[0.859,0.861,0.869,0.878,0.889],[0.901,0.905,0.908,0.910,0.911],[0.891,0.895,0.899,0.902,0.911],[0.856,0.860,0.866,0.870,0.878],[0.835,0.841,0.850,0.861,0.865],[0.853,0.856,0.865,0.870,0.878],[0.882,0.883,0.888,0.890,0.895],[0.917,0.919,0.922,0.925,0.931],[0.854,0.856,0.863,0.867,0.876],[0.890,0.893,0.897,0.901,0.906],[0.853,0.856,0.858,0.860,0.863],[0.879,0.889,0.894,0.907,0.910],[0.766,0.779,0.786,0.793,0.810]];
const lstm500_h24_ind = [[0.884,0.902,0.910,0.919,0.935],[0.862,0.878,0.894,0.897,0.925],[0.933,0.935,0.940,0.943,0.945],[0.844,0.874,0.893,0.903,0.919],[0.897,0.900,0.906,0.911,0.917],[0.866,0.891,0.901,0.915,0.921],[0.928,0.935,0.939,0.941,0.951],[0.901,0.922,0.930,0.941,0.949],[0.911,0.917,0.919,0.922,0.925],[0.885,0.900,0.909,0.915,0.919],[0.881,0.900,0.909,0.915,0.927],[0.919,0.925,0.927,0.929,0.931],[0.941,0.945,0.951,0.953,0.958],[0.886,0.899,0.909,0.912,0.927],[0.892,0.912,0.920,0.931,0.937],[0.877,0.898,0.909,0.922,0.929],[0.939,0.941,0.943,0.947,0.949],[0.850,0.859,0.871,0.888,0.903]];
const lstm500_h24_uni = [[0.957,0.959,0.962,0.965,0.969],[0.941,0.943,0.946,0.949,0.950],[0.957,0.959,0.962,0.965,0.967],[0.922,0.933,0.940,0.943,0.949],[0.918,0.920,0.924,0.928,0.932],[0.927,0.930,0.935,0.939,0.941],[0.958,0.960,0.962,0.964,0.966],[0.956,0.959,0.962,0.965,0.967],[0.911,0.920,0.928,0.933,0.937],[0.911,0.913,0.917,0.920,0.922],[0.953,0.956,0.960,0.962,0.968],[0.963,0.964,0.967,0.969,0.971],[0.971,0.972,0.973,0.974,0.974],[0.947,0.949,0.953,0.957,0.958],[0.955,0.957,0.962,0.965,0.967],[0.927,0.928,0.932,0.935,0.940],[0.945,0.945,0.949,0.951,0.956],[0.900,0.902,0.904,0.907,0.911]];

// ---- LSTM, source size 1000 ----
const lstm1000_m15f1_ind = [[0.940,0.943,0.946,0.949,0.951],[0.929,0.930,0.932,0.933,0.936],[0.937,0.939,0.941,0.944,0.946],[0.912,0.915,0.918,0.920,0.923],[0.929,0.930,0.931,0.933,0.935],[0.934,0.935,0.937,0.939,0.941],[0.944,0.945,0.947,0.949,0.950],[0.921,0.922,0.924,0.925,0.926],[0.929,0.930,0.931,0.933,0.935],[0.946,0.947,0.949,0.950,0.952],[0.917,0.920,0.922,0.925,0.927],[0.935,0.936,0.938,0.939,0.945],[0.964,0.965,0.965,0.966,0.966],[0.928,0.930,0.932,0.933,0.935],[0.946,0.947,0.949,0.950,0.951],[0.929,0.930,0.932,0.933,0.935],[0.961,0.964,0.966,0.967,0.969],[0.936,0.937,0.939,0.941,0.942]];
const lstm1000_m15f1_uni = [[0.935,0.941,0.944,0.947,0.951],[0.928,0.930,0.933,0.935,0.937],[0.922,0.926,0.929,0.932,0.936],[0.912,0.916,0.919,0.922,0.925],[0.929,0.930,0.932,0.933,0.936],[0.928,0.933,0.935,0.937,0.940],[0.938,0.940,0.943,0.946,0.949],[0.922,0.923,0.924,0.926,0.927],[0.929,0.931,0.932,0.933,0.935],[0.945,0.947,0.949,0.951,0.953],[0.920,0.922,0.924,0.926,0.929],[0.936,0.937,0.938,0.940,0.941],[0.965,0.965,0.966,0.966,0.967],[0.926,0.927,0.929,0.931,0.933],[0.947,0.948,0.949,0.950,0.951],[0.912,0.916,0.919,0.922,0.932],[0.962,0.964,0.967,0.969,0.971],[0.935,0.937,0.939,0.941,0.943]];
const lstm1000_m15f12_ind = [[0.956,0.957,0.958,0.959,0.961],[0.941,0.943,0.945,0.949,0.952],[0.948,0.951,0.953,0.956,0.958],[0.927,0.929,0.932,0.936,0.938],[0.936,0.937,0.939,0.941,0.942],[0.942,0.945,0.947,0.949,0.952],[0.955,0.956,0.957,0.957,0.958],[0.932,0.933,0.937,0.940,0.943],[0.938,0.939,0.941,0.943,0.945],[0.947,0.949,0.951,0.953,0.955],[0.933,0.935,0.936,0.937,0.939],[0.941,0.943,0.948,0.951,0.953],[0.973,0.974,0.974,0.975,0.975],[0.943,0.944,0.945,0.945,0.946],[0.952,0.953,0.955,0.956,0.958],[0.940,0.941,0.943,0.945,0.946],[0.971,0.972,0.974,0.975,0.976],[0.945,0.946,0.948,0.950,0.951]];
const lstm1000_m15f12_uni = [[0.957,0.957,0.959,0.961,0.963],[0.939,0.941,0.944,0.947,0.949],[0.941,0.941,0.946,0.951,0.953],[0.923,0.927,0.930,0.933,0.935],[0.932,0.933,0.934,0.936,0.937],[0.933,0.936,0.939,0.943,0.946],[0.955,0.955,0.956,0.957,0.957],[0.937,0.939,0.941,0.943,0.945],[0.928,0.930,0.932,0.933,0.935],[0.937,0.945,0.949,0.952,0.954],[0.935,0.937,0.940,0.941,0.945],[0.946,0.949,0.951,0.953,0.956],[0.973,0.974,0.974,0.975,0.975],[0.936,0.936,0.937,0.938,0.938],[0.951,0.953,0.955,0.957,0.959],[0.902,0.903,0.907,0.911,0.916],[0.961,0.964,0.966,0.969,0.972],[0.912,0.916,0.923,0.929,0.931]];
const lstm1000_h2_ind = [[0.905,0.910,0.914,0.917,0.919],[0.884,0.891,0.895,0.900,0.907],[0.916,0.918,0.925,0.926,0.933],[0.885,0.887,0.890,0.892,0.897],[0.850,0.862,0.872,0.873,0.881],[0.858,0.863,0.875,0.877,0.883],[0.921,0.923,0.926,0.928,0.930],[0.908,0.911,0.914,0.917,0.927],[0.895,0.897,0.900,0.902,0.908],[0.876,0.878,0.883,0.887,0.889],[0.879,0.888,0.898,0.900,0.905],[0.889,0.900,0.904,0.908,0.917],[0.944,0.945,0.947,0.949,0.950],[0.892,0.894,0.896,0.899,0.905],[0.901,0.901,0.913,0.924,0.931],[0.891,0.894,0.898,0.902,0.905],[0.905,0.918,0.924,0.928,0.931],[0.878,0.882,0.887,0.890,0.898]];
const lstm1000_h2_uni = [[0.920,0.922,0.924,0.927,0.929],[0.861,0.869,0.872,0.875,0.879],[0.915,0.917,0.922,0.925,0.927],[0.858,0.861,0.864,0.867,0.874],[0.819,0.835,0.850,0.851,0.856],[0.826,0.830,0.833,0.836,0.842],[0.913,0.915,0.917,0.919,0.921],[0.908,0.911,0.914,0.920,0.928],[0.860,0.861,0.864,0.867,0.870],[0.857,0.861,0.865,0.869,0.872],[0.885,0.887,0.901,0.907,0.914],[0.911,0.912,0.916,0.919,0.923],[0.939,0.941,0.943,0.946,0.949],[0.877,0.881,0.883,0.885,0.887],[0.896,0.901,0.904,0.907,0.911],[0.718,0.741,0.752,0.774,0.780],[0.870,0.882,0.889,0.893,0.901],[0.714,0.735,0.740,0.757,0.772]];
const lstm1000_h2s_ind = [[0.854,0.869,0.881,0.885,0.889],[0.844,0.850,0.853,0.856,0.862],[0.894,0.896,0.904,0.907,0.911],[0.843,0.846,0.857,0.871,0.877],[0.867,0.870,0.874,0.883,0.885],[0.848,0.860,0.878,0.883,0.889],[0.901,0.903,0.906,0.909,0.911],[0.880,0.884,0.890,0.898,0.901],[0.888,0.890,0.893,0.896,0.902],[0.850,0.853,0.857,0.861,0.868],[0.850,0.854,0.858,0.861,0.864],[0.859,0.861,0.874,0.881,0.889],[0.906,0.910,0.915,0.919,0.922],[0.853,0.856,0.859,0.863,0.865],[0.889,0.893,0.898,0.901,0.905],[0.857,0.865,0.871,0.876,0.884],[0.903,0.904,0.908,0.911,0.917],[0.824,0.833,0.836,0.840,0.845]];
const lstm1000_h2s_uni = [[0.885,0.888,0.890,0.892,0.896],[0.845,0.850,0.856,0.861,0.864],[0.906,0.909,0.915,0.919,0.922],[0.844,0.846,0.856,0.878,0.887],[0.866,0.869,0.874,0.879,0.884],[0.853,0.861,0.874,0.885,0.893],[0.904,0.905,0.908,0.911,0.913],[0.882,0.887,0.893,0.901,0.915],[0.850,0.863,0.869,0.872,0.887],[0.825,0.832,0.838,0.846,0.857],[0.864,0.865,0.870,0.873,0.880],[0.874,0.876,0.881,0.883,0.894],[0.919,0.920,0.924,0.927,0.928],[0.853,0.855,0.863,0.870,0.879],[0.893,0.896,0.899,0.902,0.907],[0.853,0.862,0.867,0.875,0.881],[0.900,0.903,0.908,0.912,0.913],[0.786,0.788,0.791,0.794,0.796]];
const lstm1000_h24_ind = [[0.903,0.921,0.932,0.939,0.944],[0.906,0.918,0.925,0.940,0.945],[0.939,0.946,0.949,0.952,0.957],[0.878,0.891,0.916,0.923,0.939],[0.907,0.912,0.917,0.922,0.929],[0.903,0.907,0.912,0.915,0.916],[0.937,0.941,0.949,0.952,0.955],[0.933,0.940,0.943,0.945,0.952],[0.927,0.929,0.933,0.936,0.940],[0.865,0.891,0.900,0.914,0.919],[0.898,0.906,0.918,0.925,0.935],[0.927,0.928,0.931,0.941,0.943],[0.947,0.957,0.962,0.964,0.970],[0.911,0.918,0.922,0.925,0.929],[0.926,0.933,0.939,0.946,0.951],[0.915,0.916,0.926,0.933,0.936],[0.947,0.948,0.950,0.951,0.952],[0.874,0.891,0.904,0.912,0.923]];
const lstm1000_h24_uni = [[0.961,0.961,0.964,0.968,0.970],[0.943,0.947,0.950,0.953,0.960],[0.963,0.964,0.966,0.968,0.969],[0.946,0.948,0.950,0.952,0.957],[0.917,0.918,0.927,0.933,0.945],[0.933,0.936,0.940,0.943,0.949],[0.963,0.964,0.965,0.966,0.968],[0.960,0.962,0.964,0.966,0.967],[0.925,0.939,0.943,0.946,0.948],[0.925,0.930,0.933,0.937,0.941],[0.957,0.957,0.960,0.962,0.963],[0.963,0.964,0.967,0.969,0.973],[0.975,0.975,0.976,0.977,0.977],[0.955,0.956,0.958,0.959,0.960],[0.960,0.961,0.964,0.968,0.970],[0.933,0.935,0.938,0.941,0.945],[0.956,0.957,0.960,0.962,0.964],[0.902,0.906,0.911,0.917,0.920]];

// panel grid: [individual, unified] for each row and column
const panelData = [
  [[xgb100_m15f1_ind, xgb100_m15f1_uni], [xgb100_m15f12_ind, xgb100_m15f12_uni], [xgb100_h2_ind, xgb100_h2_uni], [xgb100_h2s_ind, xgb100_h2s_uni], [xgb100_h24_ind, xgb100_h24_uni]],
  [[xgb500_m15f1_ind, xgb500_m15f1_uni], [xgb500_m15f12_ind, xgb500_m15f12_uni], [xgb500_h2_ind, xgb500_h2_uni], [xgb500_h2s_ind, xgb500_h2s_uni], [xgb500_h24_ind, xgb500_h24_uni]],
  [[xgb1000_m15f1_ind, xgb1000_m15f1_uni], [xgb1000_m15f12_ind, xgb1000_m15f12_uni], [xgb1000_h2_ind, xgb1000_h2_uni], [xgb1000_h2s_ind, xgb1000_h2s_uni], [xgb1000_h24_ind, xgb1000_h24_uni]],
  [[lstm100_m15f1_ind, lstm100_m15f1_uni], [lstm100_m15f12_ind, lstm100_m15f12_uni], [lstm100_h2_ind, lstm100_h2_uni], [lstm100_h2s_ind, lstm100_h2s_uni], [lstm100_h24_ind, lstm100_h24_uni]],
  [[lstm500_m15f1_ind, lstm500_m15f1_uni], [lstm500_m15f12_ind, lstm500_m15f12_uni], [lstm500_h2_ind, lstm500_h2_uni], [lstm500_h2s_ind, lstm500_h2s_uni], [lstm500_h24_ind, lstm500_h24_uni]],
  [[lstm1000_m15f1_ind, lstm1000_m15f1_uni], [lstm1000_m15f12_ind, lstm1000_m15f12_uni], [lstm1000_h2_ind, lstm1000_h2_uni], [lstm1000_h2s_ind, lstm1000_h2s_uni], [lstm1000_h24_ind, lstm1000_h24_uni]]
];

// ---- layout ----
const W = 1135, H = 1706;
const plotW = 188, plotH = 253;
const left0 = 52.3, colStep = 224;
const top0 = 24, rowStep = 280.2;

const boxColor = ["#e8292b", "#2a7ab8"];   // individual, unified boxes
const meanColor = ["#ff0000", "#0000ff"];  // individual, unified mean lines
const axisColor = "#262626";

// narrow a text element horizontally by factor k
function squeeze(sel, k) {
  sel.each(function () {
    const len = this.getComputedTextLength();
    if (len > 0) {
      this.setAttribute("textLength", (len * k).toFixed(2));
      this.setAttribute("lengthAdjust", "spacingAndGlyphs");
    }
  });
}

const svg = d3.select("body").append("svg")
  .attr("width", W).attr("height", H)
  .attr("viewBox", `0 0 ${W} ${H}`);

const x = d3.scaleLinear().domain([0.5, 18.5]).range([0, plotW]);
const y = d3.scaleLinear().domain([0.70, 1.00]).range([plotH, 0]);
const halfBox = (x(1.25) - x(1));
const halfCap = halfBox / 2;

const defs = svg.append("defs");
defs.append("clipPath").attr("id", "plot-clip")
  .append("rect").attr("x", 0).attr("y", 0).attr("width", plotW).attr("height", plotH);

panelData.forEach((row, r) => {
  row.forEach((pair, c) => {
    const g = svg.append("g")
      .attr("transform", `translate(${left0 + c * colStep},${top0 + r * rowStep})`);

    // plotting area, clipped to the axes
    const area = g.append("g").attr("clip-path", "url(#plot-clip)");

    pair.forEach((series, s) => {
      const sg = area.append("g")
        .attr("stroke", boxColor[s])
        .attr("stroke-width", 1.2)
        .attr("stroke-opacity", 0.85)
        .attr("fill", "none");
      series.forEach((st, i) => {
        const cx = x(dma[i]);
        const [lo, q1, med, q3, hi] = st;
        const b = sg.append("g");
        // whiskers
        b.append("line").attr("x1", cx).attr("x2", cx).attr("y1", y(lo)).attr("y2", y(q1));
        b.append("line").attr("x1", cx).attr("x2", cx).attr("y1", y(q3)).attr("y2", y(hi));
        // caps
        b.append("line").attr("x1", cx - halfCap).attr("x2", cx + halfCap).attr("y1", y(lo)).attr("y2", y(lo));
        b.append("line").attr("x1", cx - halfCap).attr("x2", cx + halfCap).attr("y1", y(hi)).attr("y2", y(hi));
        // box
        b.append("rect")
          .attr("x", cx - halfBox).attr("width", 2 * halfBox)
          .attr("y", y(q3)).attr("height", Math.max(0.6, y(q1) - y(q3)));
        // median
        b.append("line").attr("x1", cx - halfBox).attr("x2", cx + halfBox).attr("y1", y(med)).attr("y2", y(med));
      });
    });

    // mean lines across all DMAs
    [meanIndividual[r][c], meanUnified[r][c]].forEach((m, s) => {
      area.append("line")
        .attr("x1", 0).attr("x2", plotW)
        .attr("y1", y(m)).attr("y2", y(m))
        .attr("stroke", meanColor[s])
        .attr("stroke-opacity", 0.7)
        .attr("stroke-width", 2.6);
    });

    // frame
    g.append("rect")
      .attr("width", plotW).attr("height", plotH)
      .attr("fill", "none").attr("stroke", axisColor).attr("stroke-width", 1);

    // y axis
    const ya = g.append("g")
      .call(d3.axisLeft(y).tickValues(yTicks).tickFormat(d3.format(".2f")).tickSize(3.5).tickPadding(3));
    ya.select(".domain").remove();
    ya.selectAll("line").attr("stroke", axisColor);
    ya.selectAll("text").attr("fill", axisColor).attr("font-size", 10)
      .attr("font-family", "DejaVu Sans").call(squeeze, 0.84);

    // x axis
    const xa = g.append("g").attr("transform", `translate(0,${plotH})`)
      .call(d3.axisBottom(x).tickValues(dma).tickFormat(d3.format("d")).tickSize(3.5).tickPadding(2));
    xa.select(".domain").remove();
    xa.selectAll("line").attr("stroke", axisColor);
    xa.selectAll("text").attr("fill", axisColor).attr("font-size", 8.6)
      .attr("font-family", "DejaVu Sans").call(squeeze, 0.8);

    if (r === 0) {
      g.append("text")
        .attr("x", plotW / 2).attr("y", -5.5)
        .attr("text-anchor", "middle")
        .attr("font-size", 11.4).attr("fill", axisColor)
        .text(columnTitles[c]).call(squeeze, 0.93);
    }
    if (c === 0) {
      g.append("text")
        .attr("transform", `translate(${-32.5},${plotH / 2}) rotate(-90)`)
        .attr("text-anchor", "middle")
        .attr("font-size", 9).attr("fill", axisColor)
        .text(rowLabels[r]);
    }
    if (r === panelData.length - 1) {
      g.append("text")
        .attr("x", plotW / 2).attr("y", plotH + 25)
        .attr("text-anchor", "middle")
        .attr("font-size", 10).attr("fill", axisColor)
        .text("DMA").call(squeeze, 0.88);
    }

    // legend in the first panel
    if (r === 0 && c === 0) {
      const lg = g.append("g").attr("transform", "translate(4.7,4)");
      lg.append("rect")
        .attr("width", 74).attr("height", 29.5).attr("rx", 2.5)
        .attr("fill", "#fff").attr("fill-opacity", 0.85)
        .attr("stroke", "#d0d0d0").attr("stroke-width", 0.8);
      seriesNames.forEach((name, s) => {
        const yy = 7.8 + s * 13.3;
        lg.append("line")
          .attr("x1", 2.5).attr("x2", 21.5).attr("y1", yy).attr("y2", yy)
          .attr("stroke", meanColor[s]).attr("stroke-opacity", 0.75).attr("stroke-width", 1.6);
        lg.append("text")
          .attr("x", 27).attr("y", yy + 3.5)
          .attr("font-size", 9.6).attr("fill", axisColor)
          .text(name).call(squeeze, 0.9);
      });
    }
  });
});
</script>
</body>
</html>
